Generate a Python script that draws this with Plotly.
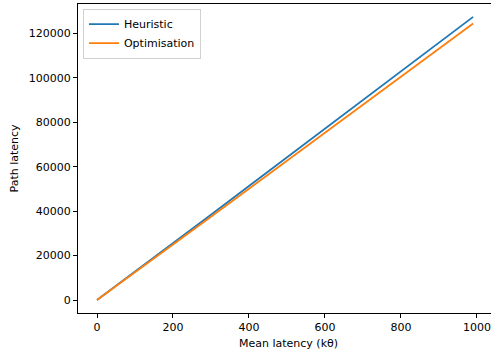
import plotly.graph_objects as go

mean_latency = [0, 100, 200, 300, 400, 500, 600, 700, 800, 900, 990]
heuristic = [0, 12700, 25500, 38400, 51300, 64200, 77100, 90000, 102900, 115800, 127400]
optimisation = [0, 12400, 24900, 37500, 50100, 62700, 75300, 87900, 100500, 113100, 124400]

x_ticks = [0, 200, 400, 600, 800, 1000]
y_ticks = [0, 20000, 40000, 60000, 80000, 100000, 120000]

font = dict(family="DejaVu Sans", size=11, color="black")

fig = go.Figure()
fig.add_trace(go.Scatter(x=mean_latency, y=heuristic, mode="lines", name="Heuristic",
                         line=dict(color="#1f77b4", width=1.8)))
fig.add_trace(go.Scatter(x=mean_latency, y=optimisation, mode="lines", name="Optimisation",
                         line=dict(color="#ff7f0e", width=1.8)))

fig.update_layout(
    width=491, height=354,
    margin=dict(l=78, r=0, t=4, b=41, autoexpand=False),
    plot_bgcolor="white", paper_bgcolor="white",
    font=font,
    showlegend=True,
    legend=dict(x=0.012, y=0.985, xanchor="left", yanchor="top",
                bgcolor="rgba(255,255,255,0.8)", bordercolor="#d0d0d0", borderwidth=1,
                font=dict(family="DejaVu Sans", size=11, color="black"),
                itemwidth=30, tracegroupgap=0),
    xaxis=dict(range=[-50, 1037], tickvals=x_ticks, ticktext=[str(v) for v in x_ticks],
               showgrid=False, zeroline=False, showline=True, linecolor="black", linewidth=1,
               mirror=True, ticks="outside", ticklen=4, tickcolor="black", automargin=False),
    yaxis=dict(range=[-5850, 133200], tickvals=y_ticks, ticktext=[str(v) for v in y_ticks],
               showgrid=False, zeroline=False, showline=True, linecolor="black", linewidth=1,
               ticks="outside", ticklen=4, tickcolor="black", automargin=False),
    annotations=[
        dict(text="Path latency", textangle=-90, xref="paper", yref="paper",
             x=(14 - 78) / 413, y=0.5, xanchor="center", yanchor="middle",
             showarrow=False, font=font),
        dict(text="Mean latency (kθ)", xref="paper", yref="paper",
             x=(288 - 78) / 413, y=-(343 - 313) / 309, xanchor="center", yanchor="middle",
             showarrow=False, font=font),
    ],
)

fig.write_html("out.html", config={"displayModeBar": False},
               post_script="document.body.style.margin='0';document.body.style.overflow='hidden';")
